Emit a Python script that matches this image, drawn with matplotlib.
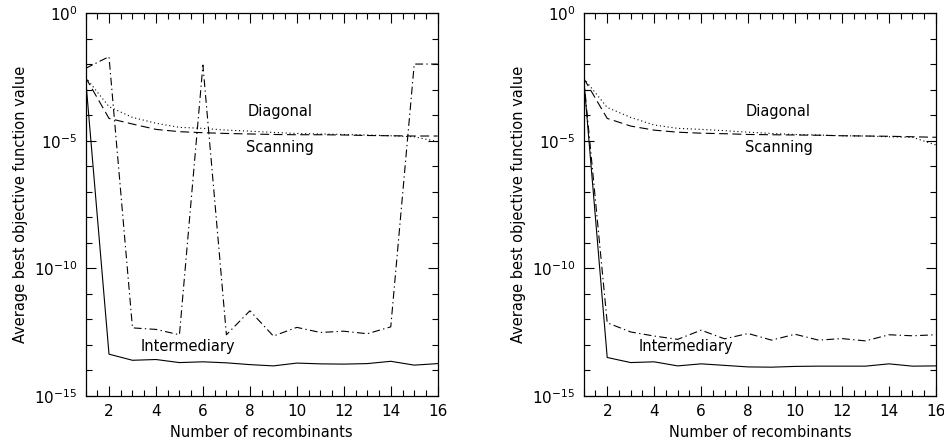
import numpy as np
import matplotlib
matplotlib.use("Agg")
import matplotlib.pyplot as plt
from matplotlib.ticker import FixedLocator, MultipleLocator, NullFormatter, LogFormatterMathtext

recombinants = np.arange(1, 17)

# log10 of average best objective function value
left_solid = [-2.51, -13.36, -13.60, -13.57, -13.69, -13.66, -13.70, -13.77,
              -13.82, -13.71, -13.74, -13.75, -13.73, -13.64, -13.79, -13.73]
left_inter = [-2.16, -1.70, -12.33, -12.39, -12.60, -2.03, -12.60, -11.66,
              -12.65, -12.31, -12.51, -12.46, -12.56, -12.29, -1.99, -1.99]
left_diag = [-2.51, -3.66, -4.08, -4.31, -4.47, -4.51, -4.58, -4.62,
             -4.67, -4.71, -4.73, -4.75, -4.77, -4.80, -4.84, -5.03]
left_scan = [-2.51, -4.12, -4.34, -4.55, -4.64, -4.68, -4.71, -4.73,
             -4.75, -4.76, -4.76, -4.77, -4.79, -4.80, -4.81, -4.81]

right_solid = [-2.55, -13.49, -13.69, -13.66, -13.82, -13.74, -13.80, -13.86,
               -13.87, -13.84, -13.83, -13.83, -13.83, -13.74, -13.83, -13.82]
right_inter = [-2.55, -12.13, -12.49, -12.65, -12.78, -12.42, -12.76, -12.55,
               -12.81, -12.58, -12.81, -12.75, -12.84, -12.60, -12.64, -12.60]
right_diag = [-2.55, -3.69, -4.08, -4.38, -4.51, -4.55, -4.60, -4.66,
              -4.71, -4.75, -4.77, -4.80, -4.81, -4.84, -4.86, -5.16]
right_scan = [-2.55, -4.12, -4.42, -4.58, -4.66, -4.70, -4.72, -4.75,
              -4.76, -4.77, -4.78, -4.80, -4.81, -4.82, -4.84, -4.86]

panels = [
    (left_solid, left_inter, left_diag, left_scan),
    (right_solid, right_inter, right_diag, right_scan),
]

plt.rcParams["font.family"] = "DejaVu Sans"
fig = plt.figure(figsize=(9.45, 4.4), dpi=100)
lefts = [0.0905, 0.6177]

for left, (solid, inter, diag, scan) in zip(lefts, panels):
    ax = fig.add_axes([left, 0.10, 0.3727, 0.8698])
    x = recombinants
    ax.semilogy(x, 10.0 ** np.array(solid), color="black", lw=0.8, ls="-")
    ax.semilogy(x, 10.0 ** np.array(inter), color="black", lw=0.8,
                dashes=(7, 3, 1.2, 3))
    ax.semilogy(x, 10.0 ** np.array(diag), color="black", lw=0.8,
                dashes=(1, 2.5))
    ax.semilogy(x, 10.0 ** np.array(scan), color="black", lw=0.8,
                dashes=(8, 4))

    ax.set_xlim(1, 16)
    ax.set_ylim(1e-15, 1e0)
    ax.xaxis.set_major_locator(MultipleLocator(2))
    ax.xaxis.set_minor_locator(MultipleLocator(0.5))
    ax.yaxis.set_major_locator(FixedLocator([1e0, 1e-5, 1e-10, 1e-15]))
    ax.yaxis.set_minor_locator(FixedLocator([10.0 ** k for k in range(-15, 1)]))
    ax.yaxis.set_major_formatter(LogFormatterMathtext())
    ax.yaxis.set_minor_formatter(NullFormatter())
    ax.tick_params(which="both", direction="in", top=True, right=True,
                   labelsize=11, width=0.8)
    ax.tick_params(which="major", length=7, pad=6)
    ax.tick_params(which="minor", length=4)
    for sp in ax.spines.values():
        sp.set_linewidth(0.9)

    ax.set_xlabel("Number of recombinants", fontsize=10.5, labelpad=4)
    ax.set_ylabel("Average best objective function value", fontsize=10.5, labelpad=4)

    ax.text(9.3, 10 ** -3.86, "Diagonal", ha="center", va="center", fontsize=10.5)
    ax.text(9.3, 10 ** -5.25, "Scanning", ha="center", va="center", fontsize=10.5)
    ax.text(5.35, 10 ** -13.05, "Intermediary", ha="center", va="center", fontsize=10.5)

fig.savefig("out.png", dpi=100)
